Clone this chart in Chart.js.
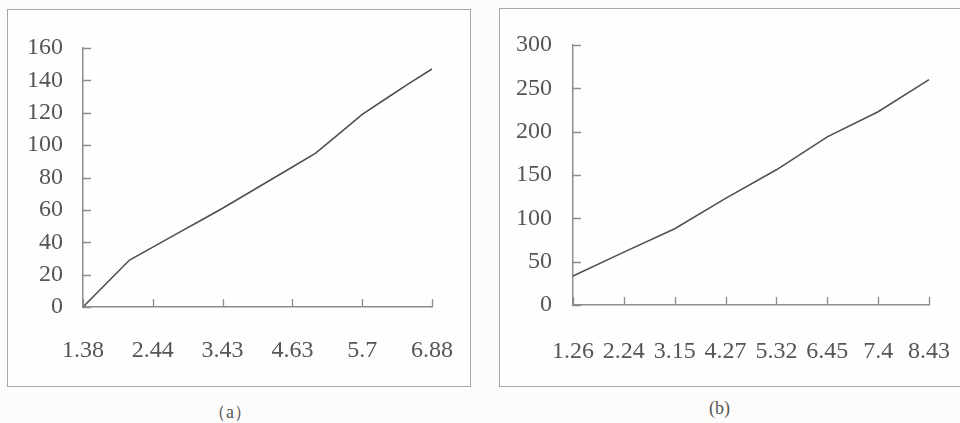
<!DOCTYPE html>
<html>
<head>
<meta charset="utf-8">
<script src="https://cdn.jsdelivr.net/npm/chart.js@4.4.1/dist/chart.umd.min.js"></script>
<style>
    body { margin: 0; background: #fcfcfa; width: 960px; height: 423px; position: relative; overflow: hidden; }
    .box { position: absolute; border: 1.5px solid #a8a8a8; background: #fefefd; }
    .cap { position: absolute; font-family: "Liberation Serif", serif; font-size: 18px; color: #555; }
</style>
</head>
<body>
<div class="box" style="left:7px; top:9px; width:462px; height:376px;">
    <canvas id="chartA" width="462" height="376"></canvas>
</div>
<div class="box" style="left:499px; top:8px; width:470px; height:377px;">
    <canvas id="chartB" width="461" height="377"></canvas>
</div>
<div class="cap" style="left:208px; top:400px;">（a）</div>
<div class="cap" style="left:709px; top:398px;">(b)</div>

<script>
// ==================== DATA ====================

// (a): three readings per labelled interval, only every third one labelled
const categoriesA = ['1.38', '', '', '2.44', '', '', '3.43', '', '', '4.63', '', '', '5.7', '', '', '6.88'];
const valuesA = [0, 14.5, 29, 37, 45, 53, 61, 69.5, 78, 86.5, 95, 107, 119, 128.5, 138, 147];
const yTicksA = { min: 0, max: 160, step: 20 };

// (b)
const categoriesB = ['1.26', '2.24', '3.15', '4.27', '5.32', '6.45', '7.4', '8.43'];
const valuesB = [33.5, 61, 88, 123, 156, 194, 223, 260];
const yTicksB = { min: 0, max: 300, step: 50 };

// ==================== STYLE ====================

const axisColor = '#8c8c8c';
const textColor = '#555555';
const lineColor = '#505050';
const tickFont = { family: 'Liberation Serif', size: 24 };

// short tick marks drawn inward from both axes
const innerTicks = {
    id: 'innerTicks',
    afterDraw(chart) {
        const ctx = chart.ctx;
        const x = chart.scales.x;
        const y = chart.scales.y;
        const len = 8;
        ctx.save();
        ctx.strokeStyle = axisColor;
        ctx.lineWidth = 1.3;
        ctx.beginPath();
        y.ticks.forEach((t, i) => {
            const py = Math.round(y.getPixelForTick(i)) + 0.5;
            ctx.moveTo(y.right, py);
            ctx.lineTo(y.right + len, py);
        });
        chart.data.labels.forEach((lab, i) => {
            if (lab === '') return;
            const px = Math.round(x.getPixelForValue(i)) + 0.5;
            ctx.moveTo(px, x.top);
            ctx.lineTo(px, x.top - len);
        });
        ctx.stroke();
        ctx.restore();
    }
};

function makeChart(id, labels, values, yt, layout) {
    const ctx = document.getElementById(id).getContext('2d');
    return new Chart(ctx, {
        type: 'line',
        data: {
            labels: labels,
            datasets: [{
                data: values,
                borderColor: lineColor,
                borderWidth: 1.6,
                pointRadius: 0,
                tension: 0,
                fill: false
            }]
        },
        options: {
            responsive: false,
            animation: false,
            layout: { padding: layout.padding },
            plugins: {
                legend: { display: false },
                tooltip: { enabled: false }
            },
            scales: {
                x: {
                    offset: false,
                    grid: { display: true, drawOnChartArea: false, drawTicks: false },
                    border: { display: true, color: axisColor, width: 1.5 },
                    ticks: {
                        autoSkip: false,
                        maxRotation: 0,
                        color: textColor,
                        font: tickFont,
                        padding: layout.xPad
                    },
                    afterFit: s => {
                        s.height = layout.xHeight;
                        // the label padding should not widen the side margins
                        s.paddingLeft = 0;
                        s.paddingRight = 0;
                    }
                },
                y: {
                    min: yt.min,
                    max: yt.max,
                    grid: { display: true, drawOnChartArea: false, drawTicks: false },
                    border: { display: true, color: axisColor, width: 1.5 },
                    ticks: {
                        stepSize: yt.step,
                        color: textColor,
                        font: tickFont,
                        padding: layout.yPad
                    },
                    afterFit: s => { s.width = layout.yWidth; }
                }
            }
        },
        plugins: [innerTicks]
    });
}

// ==================== INIT ====================

makeChart('chartA', categoriesA, valuesA, yTicksA, {
    padding: { left: 0, right: 38, top: 38, bottom: 0 },
    yWidth: 75, xHeight: 79, xPad: 29, yPad: 20
});

makeChart('chartB', categoriesB, valuesB, yTicksB, {
    padding: { left: 0, right: 32, top: 36, bottom: 0 },
    yWidth: 73, xHeight: 81, xPad: 32, yPad: 21
});
</script>
</body>
</html>
